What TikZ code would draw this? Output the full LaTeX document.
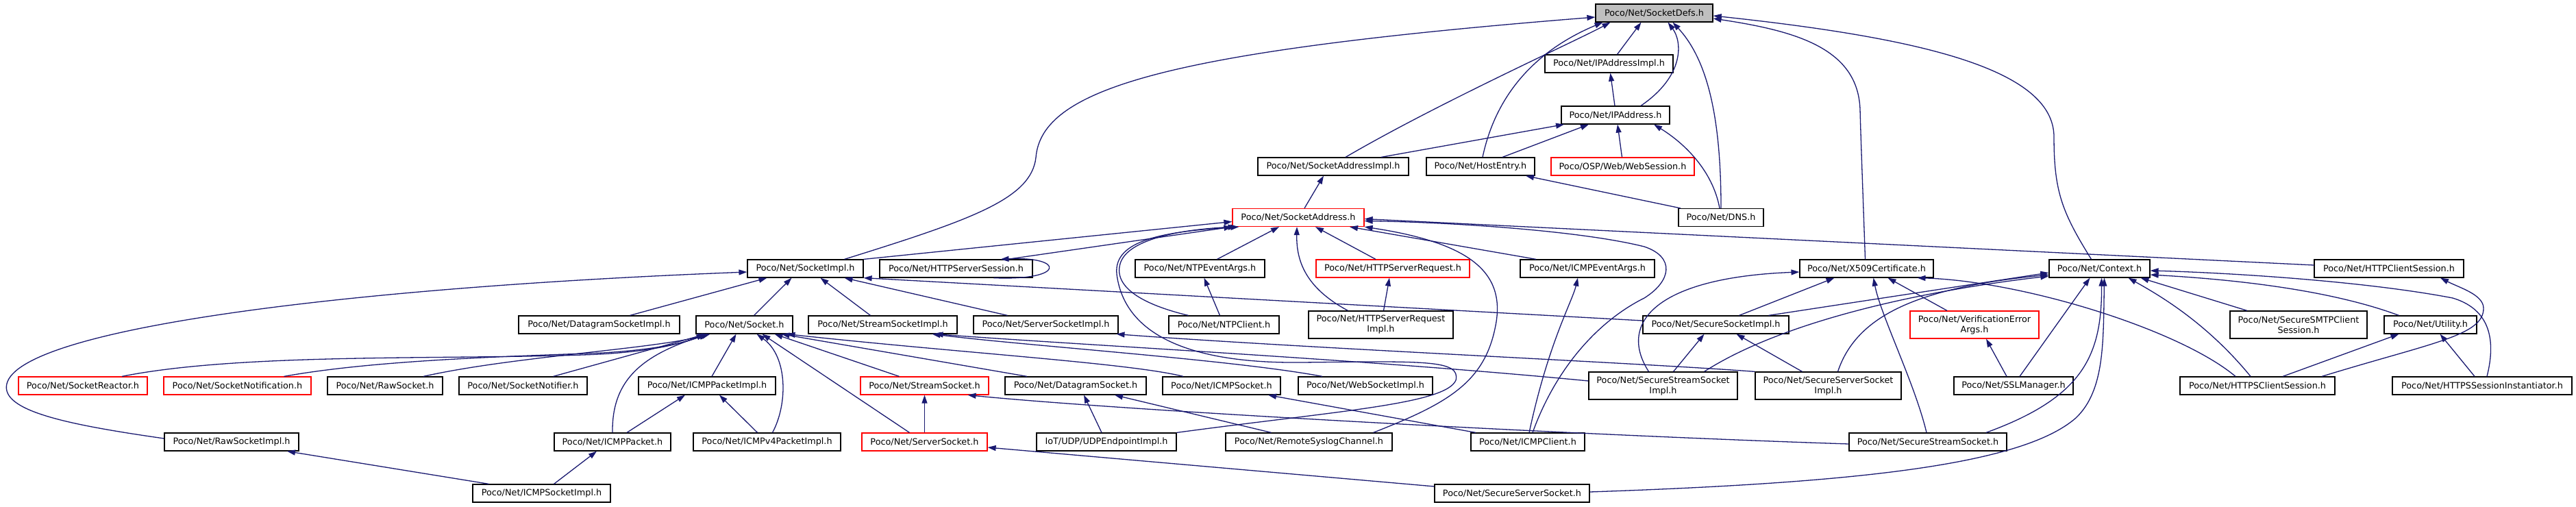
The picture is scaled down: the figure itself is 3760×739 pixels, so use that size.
\documentclass[tikz,border=0pt]{standalone}
\usepackage{fontspec}
\setmainfont{DejaVu Sans}
\usepackage{tikz}
\usetikzlibrary{arrows.meta}
\definecolor{edgeblue}{RGB}{25,25,112}

\begin{document}
\begin{tikzpicture}[
    x=1pt, y=-1pt,
    box/.style={draw=black, fill=white, line width=1.2pt, minimum height=26pt, inner sep=2pt},
    hl/.style={box, draw=red},
    root/.style={box, fill=gray!50},
    two/.style={minimum height=40pt, align=center},
    >={Triangle[length=12pt, width=8pt]},
    every path/.style={line width=1.3pt},
    font=\fontsize{12.8}{15}\selectfont
]
    \useasboundingbox (0,0) rectangle (3760,739);

    % 节点定义 (第 1--5 层)
    \node[root, minimum width=171] (SD) at (2414.5,19) {Poco/Net/SocketDefs.h};
    \node[box, minimum width=187] (IPI) at (2348.5,93) {Poco/Net/IPAddressImpl.h};
    \node[box, minimum width=158] (IPA) at (2358,168) {Poco/Net/IPAddress.h};
    \node[box, minimum width=220] (SAI) at (1946,243) {Poco/Net/SocketAddressImpl.h};
    \node[box, minimum width=158] (HE) at (2161,243) {Poco/Net/HostEntry.h};
    \node[hl, minimum width=209] (WS) at (2368.5,243) {Poco/OSP/Web/WebSession.h};
    \node[hl, minimum width=192] (SA) at (1895,317.5) {Poco/Net/SocketAddress.h};
    \node[box, minimum width=124] (DNS) at (2512,317.5) {Poco/Net/DNS.h};

    % 第 6 层
    \node[box, minimum width=169] (SI) at (1175.5,392) {Poco/Net/SocketImpl.h};
    \node[box, minimum width=223] (HSS) at (1395.5,392) {Poco/Net/HTTPServerSession.h};
    \node[box, minimum width=189] (NEA) at (1751.5,392) {Poco/Net/NTPEventArgs.h};
    \node[hl, minimum width=224] (HSR) at (2033,392) {Poco/Net/HTTPServerRequest.h};
    \node[box, minimum width=196] (IEA) at (2317,392) {Poco/Net/ICMPEventArgs.h};
    \node[box, minimum width=195] (X509) at (2724.5,392) {Poco/Net/X509Certificate.h};
    \node[box, minimum width=147] (CTX) at (3064.5,392) {Poco/Net/Context.h};
    \node[box, minimum width=218] (HCS) at (3487,392) {Poco/Net/HTTPClientSession.h};

    % 第 7 层
    \node[box, minimum width=235] (DSI) at (874.5,474) {Poco/Net/DatagramSocketImpl.h};
    \node[box, minimum width=141] (SK) at (1086.5,474) {Poco/Net/Socket.h};
    \node[box, minimum width=217] (SSI) at (1288.5,474) {Poco/Net/StreamSocketImpl.h};
    \node[box, minimum width=211] (SRVI) at (1526.5,474) {Poco/Net/ServerSocketImpl.h};
    \node[box, minimum width=161] (NC) at (1786.5,474) {Poco/Net/NTPClient.h};
    \node[box, two, minimum width=211] (HSRI) at (2015.5,474) {Poco/Net/HTTPServerRequest\\Impl.h};
    \node[box, minimum width=213] (SECI) at (2504.5,474) {Poco/Net/SecureSocketImpl.h};
    \node[hl, two, minimum width=188] (VEA) at (2882,474) {Poco/Net/VerificationError\\Args.h};
    \node[box, two, minimum width=200] (SMTP) at (3355,474) {Poco/Net/SecureSMTPClient\\Session.h};
    \node[box, minimum width=135] (UT) at (3547.5,474) {Poco/Net/Utility.h};

    % 第 8 层
    \node[hl, minimum width=188] (SR) at (121,563) {Poco/Net/SocketReactor.h};
    \node[hl, minimum width=215] (SNN) at (346.5,563) {Poco/Net/SocketNotification.h};
    \node[box, minimum width=168] (RS) at (562,563) {Poco/Net/RawSocket.h};
    \node[box, minimum width=187] (SNF) at (763.5,563) {Poco/Net/SocketNotifier.h};
    \node[box, minimum width=200] (IPKI) at (1032,563) {Poco/Net/ICMPPacketImpl.h};
    \node[hl, minimum width=187] (STS) at (1349.5,563) {Poco/Net/StreamSocket.h};
    \node[box, minimum width=206] (DS) at (1570,563) {Poco/Net/DatagramSocket.h};
    \node[box, minimum width=172] (IS) at (1783,563) {Poco/Net/ICMPSocket.h};
    \node[box, minimum width=196] (WSI) at (1993,563) {Poco/Net/WebSocketImpl.h};
    \node[box, two, minimum width=217] (SSSI) at (2427.5,563) {Poco/Net/SecureStreamSocket\\Impl.h};
    \node[box, two, minimum width=213] (SSVI) at (2668.5,563) {Poco/Net/SecureServerSocket\\Impl.h};
    \node[box, minimum width=174] (SSL) at (2939,563) {Poco/Net/SSLManager.h};
    \node[box, minimum width=226] (HTS) at (3295,563) {Poco/Net/HTTPSClientSession.h};
    \node[box, minimum width=262] (HSI) at (3623,563) {Poco/Net/HTTPSSessionInstantiator.h};

    % 第 9--10 层
    \node[box, minimum width=196] (RSI) at (338,645) {Poco/Net/RawSocketImpl.h};
    \node[box, minimum width=170] (IPK) at (894,645) {Poco/Net/ICMPPacket.h};
    \node[box, minimum width=215] (IP4) at (1119.5,645) {Poco/Net/ICMPv4PacketImpl.h};
    \node[hl, minimum width=183] (SVS) at (1349.5,645) {Poco/Net/ServerSocket.h};
    \node[box, minimum width=204] (UDP) at (1615,645) {IoT/UDP/UDPEndpointImpl.h};
    \node[box, minimum width=243] (RSC) at (1910.5,645) {Poco/Net/RemoteSyslogChannel.h};
    \node[box, minimum width=166] (IC) at (2230,645) {Poco/Net/ICMPClient.h};
    \node[box, minimum width=230] (SSS) at (2814,645) {Poco/Net/SecureStreamSocket.h};
    \node[box, minimum width=201] (ICSI) at (790.5,720) {Poco/Net/ICMPSocketImpl.h};
    \node[box, minimum width=226] (SSV) at (2207,720) {Poco/Net/SecureServerSocket.h};

    \begin{scope}[draw=edgeblue, fill=edgeblue]
    % 1. 指向 SocketDefs.h
    \draw[->] ([xshift=57]SI.north) .. controls (1420,320) and (1505,290) .. (1512,230) .. controls (1520,130) and (1700,75) .. ([yshift=-6]SD.west);
    \draw[->] ([xshift=18]SAI.north) .. controls (2100,150) and (2300,60) .. ([xshift=-64]SD.south);
    \draw[->] ([xshift=3]HE.north) .. controls (2185,130) and (2250,70) .. ([xshift=-75]SD.south);
    \draw[->] ([xshift=12]IPI.north) -- ([xshift=-19]SD.south);
    \draw[->] ([xshift=37]IPA.north) .. controls (2460,110) and (2455,60) .. ([xshift=20]SD.south);
    \draw[->] (DNS.north) .. controls (2512,180) and (2495,90) .. ([xshift=27]SD.south);
    \draw[->] ([xshift=-2]X509.north) .. controls (2718,250) and (2716,200) .. (2715,160) .. controls (2712,70) and (2620,45) .. ([yshift=-8]SD.east);
    \draw[->] ([xshift=-12]CTX.north) .. controls (3010,310) and (2998,280) .. (2998,200) .. controls (2998,100) and (2800,55) .. ([yshift=-4]SD.east);

    % 2. IPAddress.h, IPAddressImpl.h, HostEntry.h, SocketAddressImpl.h
    \draw[->] ([xshift=-1]IPA.north) -- ([xshift=2]IPI.south);
    \draw[->] ([xshift=70]SAI.north) -- ([xshift=-75]IPA.south);
    \draw[->] ([xshift=32]HE.north) -- ([xshift=-39]IPA.south);
    \draw[->] ([xshift=-1]WS.north) -- ([xshift=3]IPA.south);
    \draw[->] ([xshift=-2]DNS.north) .. controls (2500,250) and (2460,210) .. ([xshift=56]IPA.south);
    \draw[->] ([xshift=-59]DNS.north) -- ([xshift=66]HE.south);
    \draw[->] ([xshift=9]SA.north) -- ([xshift=-14]SAI.south);

    % 3. 指向 SocketAddress.h
    \draw[->] (SI.north east) -- ([yshift=-6]SA.west);
    \draw[->] ([xshift=75]HSS.north) -- (SA.south west);
    \draw[->] ([xshift=-52]NC.north) .. controls (1670,445) and (1625,420) .. (1635,385) .. controls (1645,350) and (1720,335) .. ([xshift=6]SA.south west);
    \draw[->] (UDP.north east) .. controls (1950,600) and (2110,590) .. (2125,555) .. controls (2132,525) and (2080,527) .. (1900,529) .. controls (1720,531) and (1640,480) .. (1630,400) .. controls (1625,350) and (1700,338) .. ([xshift=10]SA.south west);
    \draw[->] ([xshift=-48]HSRI.north) .. controls (1905,420) and (1892,380) .. ([xshift=-2]SA.south);
    \draw[->] ([xshift=25]NEA.north) -- ([xshift=-28]SA.south);
    \draw[->] ([xshift=-25]HSR.north) -- ([xshift=25]SA.south);
    \draw[->] ([xshift=-75]IEA.north) -- ([xshift=75]SA.south);
    \draw[->] ([xshift=94]RSC.north) .. controls (2110,590) and (2165,560) .. (2182,480) .. controls (2200,400) and (2150,355) .. (SA.south east);
    \draw[->] ([xshift=7]IC.north) .. controls (2270,540) and (2330,470) .. (2400,435) .. controls (2440,410) and (2445,375) .. (2400,360) .. controls (2300,335) and (2100,324) .. ([yshift=-5]SA.east);
    \draw[->] ([yshift=5]HCS.west) -- ([yshift=-2]SA.east);
    \draw[->] ([xshift=55]HSS.south) .. controls (1555,410) and (1555,374) .. ([xshift=65]HSS.north);

    % 4. 指向 SocketImpl.h
    \draw[->] ([xshift=45]DSI.north) -- ([xshift=-56]SI.south);
    \draw[->] ([xshift=14]SK.north) -- ([xshift=-20]SI.south);
    \draw[->] ([xshift=-18]SSI.north) -- ([xshift=22]SI.south);
    \draw[->] ([xshift=-56]SRVI.north) -- ([xshift=57]SI.south);
    \draw[->] ([yshift=6]SECI.west) -- (SI.south east);
    \draw[->] ([yshift=5]RSI.west) .. controls (100,620) and (0,600) .. (10,560) .. controls (30,480) and (500,420) .. ([yshift=-5]SI.west);

    % 5. 指向 Socket.h
    \draw[->] ([xshift=57]SR.north) .. controls (350,515) and (650,525) .. (850,518) .. controls (950,515) and (1000,500) .. ([xshift=-58]SK.south);
    \draw[->] ([xshift=68]SNN.north) .. controls (550,525) and (750,520) .. (880,515) .. controls (960,510) and (1000,500) .. ([xshift=-54]SK.south);
    \draw[->] ([xshift=56]RS.north) .. controls (750,520) and (950,510) .. ([xshift=-50]SK.south);
    \draw[->] ([xshift=44]SNF.north) -- ([xshift=-56]SK.south);
    \draw[->] (IPK.north) .. controls (893,560) and (930,520) .. ([xshift=-52]SK.south);
    \draw[->] ([xshift=7]IPKI.north) -- ([xshift=-12]SK.south);
    \draw[->] ([xshift=8]IP4.north) .. controls (1150,590) and (1150,520) .. ([xshift=18]SK.south);
    \draw[->] ([xshift=-22]SVS.north) -- ([xshift=26]SK.south);
    \draw[->] ([xshift=-37]STS.north) -- ([xshift=44]SK.south);
    \draw[->] ([xshift=-71]DS.north) -- ([xshift=54]SK.south);
    \draw[->] ([xshift=-56]IS.north) .. controls (1650,530) and (1400,515) .. ([xshift=62]SK.south);

    % 6. ICMP 一组
    \draw[->] ([xshift=21]IPK.north) -- ([xshift=-32]IPKI.south);
    \draw[->] ([xshift=-14]IP4.north) -- ([xshift=18]IPKI.south);
    \draw[->] ([xshift=18]ICSI.north) -- ([xshift=-23]IPK.south);
    \draw[->] ([xshift=-77]ICSI.north) -- ([xshift=81]RSI.south);
    \draw[->] ([xshift=-76]IC.north) -- ([xshift=68]IS.south);
    \draw[->] ([xshift=2]IC.north) .. controls (2260,500) and (2295,440) .. ([xshift=-14]IEA.south);
    \draw[->] ([xshift=-6]NC.north) -- ([xshift=6]NEA.south);
    \draw[->] ([xshift=4]HSRI.north) -- ([xshift=-5]HSR.south);

    % 7. Stream / Server / Datagram
    \draw[->] ([xshift=-63]WSI.north) .. controls (1800,525) and (1500,505) .. ([xshift=72]SSI.south);
    \draw[->] ([yshift=7]SSSI.west) .. controls (2000,525) and (1600,505) .. ([xshift=76]SSI.south);
    \draw[->] (SSVI.north west) .. controls (2400,530) and (1900,508) .. ([xshift=103]SRVI.south);
    \draw[->] (SVS.north) -- (STS.south);
    \draw[->] ([yshift=-3]SSS.west) .. controls (2300,635) and (1650,600) .. ([xshift=63]STS.south);
    \draw[->] ([yshift=10]SSV.west) -- ([yshift=-8]SVS.east);
    \draw[->] ([xshift=-7]UDP.north) -- ([xshift=12]DS.south);
    \draw[->] ([xshift=-55]RSC.north) -- ([xshift=57]DS.south);

    % 8. 指向 X509Certificate.h
    \draw[->] ([xshift=34]SECI.north) -- ([xshift=-47]X509.south);
    \draw[->] ([xshift=-21]SSSI.north) .. controls (2360,470) and (2420,405) .. ([yshift=-5]X509.west);
    \draw[->] ([xshift=-40]VEA.north) -- ([xshift=31]X509.south);
    \draw[->] ([xshift=-2]SSS.north) .. controls (2795,560) and (2745,460) .. ([xshift=10]X509.south);
    \draw[->] ([xshift=-32]HTS.north) .. controls (3180,480) and (2950,410) .. ([xshift=74]X509.south);

    % 9. 指向 Context.h
    \draw[->] ([xshift=77]SECI.north) -- ([yshift=-6]CTX.west);
    \draw[->] ([xshift=60]SSSI.north) .. controls (2600,470) and (2800,425) .. ([yshift=-11]CTX.west);
    \draw[->] ([xshift=14]SSVI.north) .. controls (2710,460) and (2800,420) .. ([yshift=-9]CTX.west);
    \draw[->] ([xshift=9]SSL.north) -- ([xshift=-14]CTX.south);
    \draw[->] ([xshift=85]SSS.north) .. controls (3040,580) and (3068,520) .. ([xshift=3]CTX.south);
    \draw[->] ([yshift=2]SSV.east) .. controls (2700,705) and (2950,680) .. (3030,610) .. controls (3072,570) and (3070,500) .. ([xshift=7]CTX.south);
    \draw[->] ([xshift=-10]HTS.north) .. controls (3220,470) and (3150,430) .. ([xshift=42]CTX.south);
    \draw[->] ([xshift=-75]SMTP.north) -- ([xshift=60]CTX.south);
    \draw[->] ([xshift=-46]UT.north) .. controls (3420,430) and (3300,410) .. ([yshift=-9]CTX.east);
    \draw[->] ([xshift=7]HSI.north) .. controls (3645,490) and (3630,450) .. (3580,435) .. controls (3450,410) and (3250,398) .. ([yshift=-3]CTX.east);

    % 10. 其余
    \draw[->] ([xshift=94]HTS.north) .. controls (3550,500) and (3625,490) .. (3625,450) .. controls (3625,430) and (3590,420) .. ([xshift=75]HCS.south);
    \draw[->] ([xshift=15]SSSI.north) -- ([xshift=-17]SECI.south);
    \draw[->] ([xshift=-38]SSVI.north) -- ([xshift=30]SECI.south);
    \draw[->] ([xshift=-10]SSL.north) -- ([xshift=17]VEA.south);
    \draw[->] ([xshift=37]HTS.north) -- ([xshift=-46]UT.south);
    \draw[->] ([xshift=-11]HSI.north) -- ([xshift=14]UT.south);
    \end{scope}

\end{tikzpicture}
\end{document}
